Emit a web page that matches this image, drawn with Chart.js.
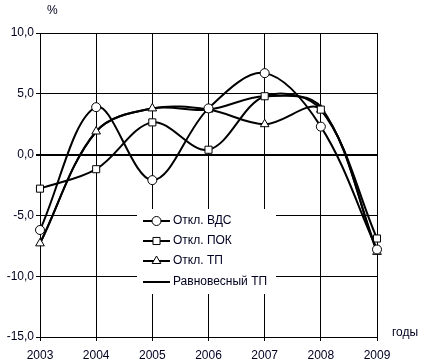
<!DOCTYPE html>
<html>
<head>
<meta charset="utf-8">
<script src="https://cdn.jsdelivr.net/npm/chart.js@4.4.1/dist/chart.umd.min.js"></script>
<style>
  body { margin: 0; background: #fff; }
  #wrap { width: 424px; height: 364px; }
</style>
</head>
<body>
<div id="wrap"><canvas id="chart" width="424" height="364"></canvas></div>
<script>
const years = ['2003', '2004', '2005', '2006', '2007', '2008', '2009'];
const vdsDev = [-6.2, 3.9, -2.1, 3.8, 6.7, 2.3, -7.8];
const pokDev = [-2.8, -1.2, 2.65, 0.4, 4.8, 3.7, -6.9];
const tpDev = [-7.3, 1.9, 3.8, 3.7, 2.5, 3.7, -8.0];
const tpEquil = [-7.3, 1.9, 3.8, 3.7, 4.8, 3.9, -7.9];

const textColor = '#000020';
const font = 'Arial, "Liberation Sans", sans-serif';

function series(label, data, style, radius) {
  return {
    label,
    data,
    borderColor: '#000',
    borderWidth: 2,
    backgroundColor: '#fff',
    pointBackgroundColor: '#fff',
    pointBorderColor: '#000',
    pointBorderWidth: 1,
    pointStyle: style || false,
    pointRadius: radius || 0,
    tension: 0.35,
    fill: false
  };
}

// legend box and axis captions
const extras = {
  id: 'extras',
  afterDatasetsDraw(chart) {
    const ctx = chart.ctx;
    ctx.save();
    ctx.fillStyle = '#fff';
    ctx.fillRect(137, 209, 139, 85);
    const rows = [221, 241, 261, 282];
    chart.data.datasets.forEach((ds, i) => {
      const y = rows[i];
      ctx.strokeStyle = '#000';
      ctx.lineWidth = 2;
      ctx.beginPath();
      ctx.moveTo(143, y);
      ctx.lineTo(170, y);
      ctx.stroke();
      if (ds.pointStyle) {
        ctx.fillStyle = '#fff';
        ctx.lineWidth = 1;
        ctx.strokeStyle = '#000';
        Chart.helpers.drawPoint(ctx, { pointStyle: ds.pointStyle, radius: ds.pointRadius, borderWidth: 1 }, 156.5, y);
      }
      ctx.fillStyle = textColor;
      ctx.font = '12px ' + font;
      ctx.textBaseline = 'middle';
      ctx.textAlign = 'left';
      ctx.fillText(ds.label, 173, y);
    });
    ctx.fillStyle = textColor;
    ctx.font = '12px ' + font;
    ctx.textBaseline = 'middle';
    ctx.fillText('%', 47, 11);
    ctx.fillText('годы', 392, 333);
    ctx.restore();
  }
};

new Chart(document.getElementById('chart'), {
  type: 'line',
  data: {
    labels: years,
    datasets: [
      series('Откл. ВДС', vdsDev, 'circle', 4.5),
      series('Откл. ПОК', pokDev, 'rect', 5),
      series('Откл. ТП', tpDev, 'triangle', 5),
      series('Равновесный ТП', tpEquil, false, 0)
    ]
  },
  options: {
    responsive: false,
    animation: false,
    layout: { padding: { top: 33, right: 47, left: 0, bottom: 0 } },
    plugins: {
      legend: { display: false },
      tooltip: { enabled: false }
    },
    scales: {
      x: {
        offset: false,
        afterFit: s => { s.height = 27; },
        grid: { color: '#000', lineWidth: 1, tickLength: 4, tickColor: '#000' },
        border: { color: '#000', width: 1 },
        ticks: { color: textColor, font: { family: font, size: 12 }, padding: 7, maxRotation: 0 }
      },
      y: {
        min: -15,
        max: 10,
        afterFit: s => { s.width = 40; },
        grid: {
          color: '#000',
          lineWidth: c => (c.tick && c.tick.value === 0 ? 2 : 1),
          tickLength: 4,
          tickColor: '#000'
        },
        border: { color: '#000', width: 1 },
        ticks: {
          stepSize: 5,
          color: textColor,
          font: { family: font, size: 12 },
          padding: 2,
          callback: v => v.toFixed(1).replace('.', ',')
        }
      }
    }
  },
  plugins: [extras]
});
</script>
</body>
</html>
